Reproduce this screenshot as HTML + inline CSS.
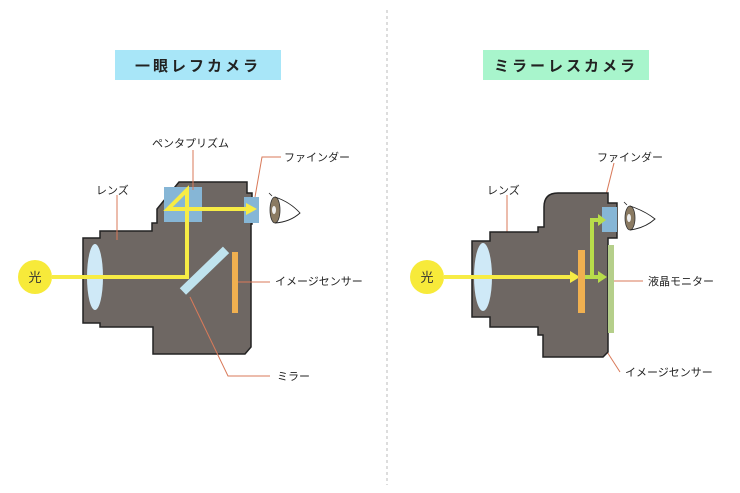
<!DOCTYPE html>
<html><head><meta charset="utf-8"><style>
html,body{margin:0;padding:0;background:#fff;}
svg{display:block;font-family:"Liberation Sans","Noto Sans CJK JP",sans-serif;}
</style></head><body>
<svg width="740" height="493" viewBox="0 0 740 493" xmlns="http://www.w3.org/2000/svg">
<line x1="387" y1="10" x2="387" y2="485" stroke="#bbb" stroke-width="1" stroke-dasharray="3,3"/>
<rect x="115" y="50" width="166" height="30" fill="#a8e6f8"/>
<text x="198" y="71" font-size="15" text-anchor="middle" letter-spacing="3" fill="#222" font-weight="bold">一眼レフカメラ</text>
<rect x="483" y="50" width="166" height="30" fill="#a8f5cc"/>
<text x="566" y="71" font-size="15" text-anchor="middle" letter-spacing="3" fill="#222" font-weight="bold">ミラーレスカメラ</text>

<!-- LEFT camera -->
<path d="M83,238 H100 V231 H152 V223 H157 V209 L179,182 H247 V193 H252 V224 H251 V347 L245,354 H153 V327 H100 V323 H83 Z" fill="#6e6763" stroke="#222" stroke-width="1.5"/>
<ellipse cx="95" cy="277" rx="8" ry="33" fill="#cfe9f7"/>
<rect x="164" y="187" width="38" height="35" fill="#86b6d6"/>
<rect x="244" y="197" width="15" height="26" fill="#86b6d6"/>
<rect x="232" y="252" width="6" height="61" fill="#f0b050"/>
<rect x="174" y="268" width="60" height="9" fill="#bfe3ee" transform="rotate(-44 202 271)"/>
<circle cx="35" cy="277" r="17" fill="#f7ea3a"/>
<text x="35" y="282" font-size="13" text-anchor="middle" fill="#333">光</text>
<polyline points="52,277 187,277 187,190 168,209 248,209" fill="none" stroke="#f7ec45" stroke-width="4"/>
<polygon points="246,203 257,209 246,215" fill="#f7ec45"/>
<ellipse cx="275" cy="210" rx="5" ry="13" fill="#8a7a62" stroke="#333" stroke-width="0.8"/>
<ellipse cx="274" cy="210" rx="2" ry="4" fill="#eee"/>
<path d="M275,197 Q290,202 300,213 Q290,222 275,223" fill="none" stroke="#222" stroke-width="0.9"/>
<path d="M272,196 L269,193" stroke="#222" stroke-width="0.8"/>
<g stroke="#d97a5a" stroke-width="1" fill="none">
<polyline points="193,150 193,190"/>
<polyline points="281,157 262,157 255,197"/>
<polyline points="117,195 117,240"/>
<polyline points="238,282 270,282"/>
<polyline points="190,297 228,376 270,376"/>
<polyline points="507,195 507,240"/>
<polyline points="614,163 603,207"/>
<polyline points="614,281 643,281"/>
<polyline points="582,313 620,372"/>
</g>
<g font-size="11" fill="#222">
<text x="152" y="147">ペンタプリズム</text>
<text x="284" y="161">ファインダー</text>
<text x="96" y="194">レンズ</text>
<text x="275" y="285">イメージセンサー</text>
<text x="277" y="380">ミラー</text>
<text x="597" y="161">ファインダー</text>
<text x="487" y="194">レンズ</text>
<text x="648" y="285">液晶モニター</text>
<text x="625" y="376">イメージセンサー</text>
</g>

<!-- RIGHT camera -->
<path d="M472,241 H490 V232 H538 V227 H544 V207 Q544,193 558,193 H608 V203 H617 V238 H608 V352 L603,357 H543 V335 H538 V327 H490 V317 H472 Z" fill="#6e6763" stroke="#222" stroke-width="1.5"/>
<ellipse cx="483" cy="277" rx="9" ry="34" fill="#cfe9f7"/>
<rect x="602" y="207" width="15" height="25" fill="#86b6d6"/>
<rect x="608" y="245" width="6" height="88" fill="#b5cf8a"/>
<circle cx="427" cy="277" r="17" fill="#f7ea3a"/>
<text x="427" y="282" font-size="13" text-anchor="middle" fill="#333">光</text>
<line x1="444" y1="277" x2="572" y2="277" stroke="#f7ec45" stroke-width="4"/>
<polygon points="570,271 580,277 570,283" fill="#f7ec45"/>
<rect x="578" y="250" width="7" height="63" fill="#f0b050"/>
<polyline points="585,277 600,277" fill="none" stroke="#b8dd4a" stroke-width="4"/>
<polyline points="592,277 592,220 600,220" fill="none" stroke="#b8dd4a" stroke-width="4"/>
<polygon points="598,271 607,277 598,283" fill="#b8dd4a"/>
<polygon points="598,214 606,220 598,226" fill="#b8dd4a"/>
<ellipse cx="630" cy="218" rx="5" ry="12" fill="#8a7a62" stroke="#333" stroke-width="0.8"/>
<ellipse cx="629" cy="218" rx="2" ry="4" fill="#eee"/>
<path d="M630,206 Q645,211 655,219 Q645,228 630,230" fill="none" stroke="#222" stroke-width="0.9"/>
<path d="M627,205 L624,202" stroke="#222" stroke-width="0.8"/>
</svg>
</body></html>
